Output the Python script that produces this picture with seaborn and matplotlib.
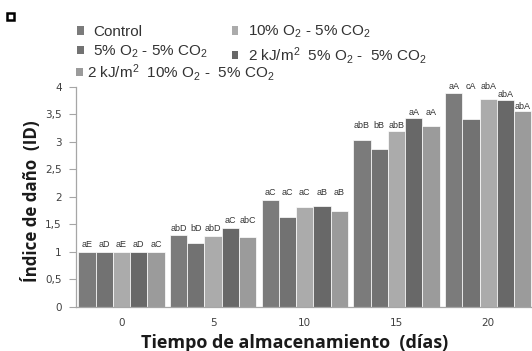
import matplotlib
matplotlib.use("Agg")
import matplotlib.pyplot as plt
import numpy as np
import pandas as pd
import seaborn as sns
from matplotlib.patches import Patch, Rectangle

# Storage days on the x axis
days = ["0", "5", "10", "15", "20"]

# Treatments (legend text)
treatments = [
    "Control",
    "5% O$_2$ - 5% CO$_2$",
    "10% O$_2$ - 5% CO$_2$",
    "2 kJ/m$^2$  5% O$_2$ -  5% CO$_2$",
    "2 kJ/m$^2$  10% O$_2$ -  5% CO$_2$",
]

# Damage index per treatment and day
control = [1.00, 1.30, 1.94, 3.03, 3.88]
o2_5 = [1.00, 1.16, 1.64, 2.86, 3.41]
o2_10 = [1.00, 1.29, 1.82, 3.19, 3.77]
uv_o2_5 = [1.00, 1.43, 1.84, 3.43, 3.76]
uv_o2_10 = [1.00, 1.27, 1.74, 3.29, 3.56]

# Significance letters above each bar
letters_control = ["aE", "abD", "aC", "abB", "aA"]
letters_o2_5 = ["aD", "bD", "aC", "bB", "cA"]
letters_o2_10 = ["aE", "abD", "aC", "abB", "abA"]
letters_uv_o2_5 = ["aD", "aC", "aB", "aA", "abA"]
letters_uv_o2_10 = ["aC", "abC", "aB", "aA", "abA"]

# Heights at which the letters are written
letter_y_control = [1.13, 1.43, 2.07, 3.29, 4.00]
letter_y_o2_5 = [1.13, 1.43, 2.07, 3.29, 4.00]
letter_y_o2_10 = [1.13, 1.43, 2.07, 3.29, 4.00]
letter_y_uv_o2_5 = [1.13, 1.56, 2.07, 3.53, 3.85]
letter_y_uv_o2_10 = [1.13, 1.56, 2.07, 3.53, 3.64]

colors = ["#7b7b7b", "#727272", "#ababab", "#686868", "#9b9b9b"]

values = [control, o2_5, o2_10, uv_o2_5, uv_o2_10]
letters = [letters_control, letters_o2_5, letters_o2_10, letters_uv_o2_5, letters_uv_o2_10]
letter_y = [letter_y_control, letter_y_o2_5, letter_y_o2_10, letter_y_uv_o2_5, letter_y_uv_o2_10]

df = pd.DataFrame(
    [(d, t, v) for t, vals in zip(treatments, values) for d, v in zip(days, vals)],
    columns=["dia", "tratamiento", "id"],
)

sns.set_theme(style="white")
plt.rcParams["font.family"] = ["DejaVu Sans"]
plt.rcParams["mathtext.fontset"] = "custom"
plt.rcParams["mathtext.rm"] = "Liberation Sans"
plt.rcParams["mathtext.it"] = "Liberation Sans"
plt.rcParams["mathtext.default"] = "regular"

W, H = 532, 351
fig = plt.figure(figsize=(W / 100, H / 100), dpi=100)
ax_left, ax_bottom, ax_w, ax_h = 0.142, 0.126, 0.862, 0.627
ax = fig.add_axes([ax_left, ax_bottom, ax_w, ax_h])

sns.barplot(
    data=df, x="dia", y="id", hue="tratamiento",
    order=days, hue_order=treatments, palette=colors,
    width=0.94, saturation=1, edgecolor="white", linewidth=0.5,
    errorbar=None, legend=False, ax=ax,
)

ax.set_xlim(-0.5, 4.5)
ax.set_ylim(0, 4)
ticks = np.arange(0, 4.01, 0.5)
ax.set_yticks(ticks)
ax.set_yticklabels([f"{t:g}".replace(".", ",") for t in ticks])

ax.tick_params(axis="y", length=5, width=0.8, color="#a6a6a6", direction="out",
               labelsize=7.5, labelcolor="#404040", pad=5, left=True)
ax.tick_params(axis="x", length=0, labelsize=7.5, labelcolor="#404040", pad=8)

for side in ["top", "right"]:
    ax.spines[side].set_visible(False)
for side in ["left", "bottom"]:
    ax.spines[side].set_color("#a6a6a6")
    ax.spines[side].set_linewidth(0.9)

# Axis titles, placed in figure pixels
ax.set_xlabel("Tiempo de almacenamiento  (días)", fontsize=13, fontweight="bold",
              family="Open Sans", color="#1a1a1a")
ax.xaxis.label.set_va("center")
ax.xaxis.set_label_coords(((295 / W) - ax_left) / ax_w,
                          ((1 - 343 / H) - ax_bottom) / ax_h)
ax.set_ylabel("Índice de daño  (ID)", fontsize=12.2, fontweight="bold",
              family="Open Sans", color="#1a1a1a")
ax.yaxis.label.set_va("center")
ax.yaxis.set_label_coords(((31 / W) - ax_left) / ax_w,
                          ((1 - 201 / H) - ax_bottom) / ax_h)

# Letters above bars
for cont, labs, ys in zip(ax.containers, letters, letter_y):
    for bar, lab, yy in zip(cont, labs, ys):
        ax.text(bar.get_x() + bar.get_width() / 2, yy, lab, ha="center", va="center",
                fontsize=6.5, color="#333333", family="Liberation Sans", clip_on=False)

# Legend: two rows of two entries, then the last entry on its own row
leg_kw = dict(frameon=False, prop={"family": "Liberation Sans", "size": 11},
              handlelength=0.45, handleheight=0.45, borderaxespad=0, borderpad=0,
              labelcolor="#333333")
top = [0, 1, 2, 3]
fig.legend([Patch(facecolor=colors[i], edgecolor="none") for i in top],
           [treatments[i] for i in top],
           loc="upper left", bbox_to_anchor=(77 / W, 1 - 24 / H), ncol=2,
           handletextpad=0.6, columnspacing=1.55, labelspacing=0.3, **leg_kw)
fig.legend([Patch(facecolor=colors[4], edgecolor="none")], [treatments[4]],
           loc="center left", bbox_to_anchor=(76 / W, 1 - 72 / H),
           handletextpad=0.25, **leg_kw)

# Small square mark in the corner
fig.patches.append(Rectangle((0.013, 0.942), 0.014, 0.02, transform=fig.transFigure,
                             facecolor="white", edgecolor="black", linewidth=1.8))

fig.savefig("out.png", dpi=100)
